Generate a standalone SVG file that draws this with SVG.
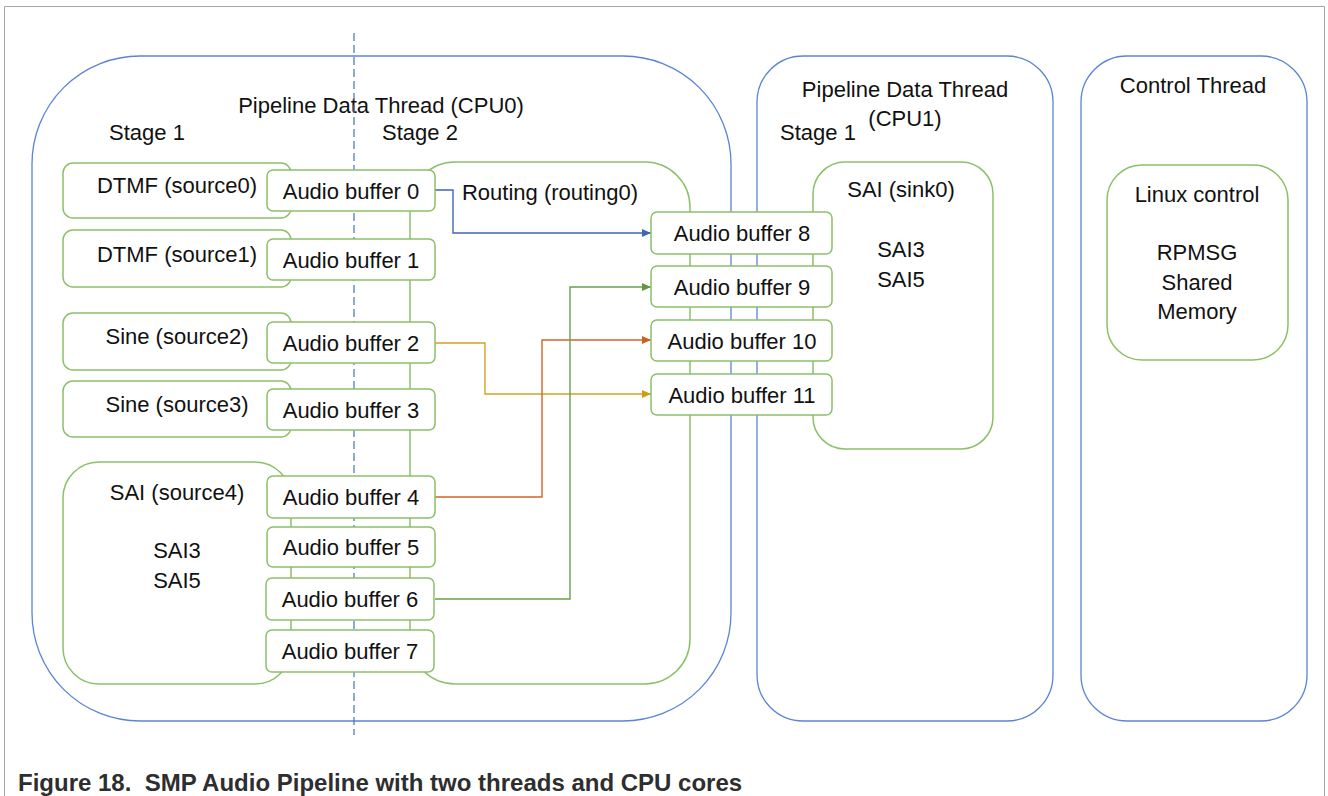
<svg xmlns="http://www.w3.org/2000/svg" width="1328" height="796" viewBox="0 0 1328 796">
<style>
  .frame { fill: none; stroke: #a6a6a6; stroke-width: 1; }
  .thread { fill: #ffffff; stroke: #5b84d4; stroke-width: 1.3; }
  .node { fill: #ffffff; stroke: #8cc068; stroke-width: 1.5; }
  .t { font-family: "Liberation Sans", Arial, sans-serif; font-size: 22px; fill: #111111; text-anchor: middle; }
  .cap { font-family: "Liberation Sans", Arial, sans-serif; font-size: 24px; font-weight: bold; fill: #2e2e2e; white-space: pre; }
  .dash { stroke: #4472c4; stroke-width: 1.2; stroke-dasharray: 8 4; fill: none; }
  .c { fill: none; stroke-width: 1.4; }
</style>
<defs>
  <marker id="aBlue" markerUnits="userSpaceOnUse" markerWidth="9" markerHeight="8" refX="9" refY="4" orient="auto"><path d="M0,0 L9,4 L0,8 z" fill="#3f66b5"/></marker>
  <marker id="aGold" markerUnits="userSpaceOnUse" markerWidth="9" markerHeight="8" refX="9" refY="4" orient="auto"><path d="M0,0 L9,4 L0,8 z" fill="#cf9d12"/></marker>
  <marker id="aOrange" markerUnits="userSpaceOnUse" markerWidth="9" markerHeight="8" refX="9" refY="4" orient="auto"><path d="M0,0 L9,4 L0,8 z" fill="#cf5f1c"/></marker>
  <marker id="aGreen" markerUnits="userSpaceOnUse" markerWidth="9" markerHeight="8" refX="9" refY="4" orient="auto"><path d="M0,0 L9,4 L0,8 z" fill="#5f9640"/></marker>
</defs>

<path class="frame" d="M4.5,796 V6.5 H1324.5 V796"/>

<g id="cpu0-thread">
  <rect class="thread" x="32" y="56" width="699" height="665" rx="108" ry="108"/>
  <text class="t" x="381" y="113">Pipeline Data Thread (CPU0)</text>
  <text class="t" x="147" y="140">Stage 1</text>
  <text class="t" x="420" y="140">Stage 2</text>
</g>

<g id="cpu1-thread">
  <rect class="thread" x="757" y="56" width="296" height="665" rx="46" ry="46"/>
  <text class="t" x="905" y="97">Pipeline Data Thread</text>
  <text class="t" x="905" y="126">(CPU1)</text>
  <text class="t" x="818" y="140">Stage 1</text>
</g>

<g id="control-thread">
  <rect class="thread" x="1081" y="56" width="226" height="665" rx="46" ry="46"/>
  <text class="t" x="1193" y="93">Control Thread</text>
</g>

<line class="dash" x1="354" y1="33" x2="354" y2="735"/>

<g id="source0">
  <rect class="node" x="63" y="163" width="228" height="55" rx="10"/>
  <text class="t" x="177" y="193">DTMF (source0)</text>
</g>
<g id="source1">
  <rect class="node" x="63" y="230" width="228" height="57" rx="10"/>
  <text class="t" x="177" y="262">DTMF (source1)</text>
</g>
<g id="source2">
  <rect class="node" x="63" y="313" width="228" height="57" rx="10"/>
  <text class="t" x="177" y="344">Sine (source2)</text>
</g>
<g id="source3">
  <rect class="node" x="63" y="381" width="228" height="56" rx="10"/>
  <text class="t" x="177" y="412">Sine (source3)</text>
</g>
<g id="source4">
  <rect class="node" x="63" y="462" width="228" height="222" rx="36"/>
  <text class="t" x="177" y="500">SAI (source4)</text>
  <text class="t" x="177" y="558">SAI3</text>
  <text class="t" x="177" y="588">SAI5</text>
</g>

<g id="routing0">
  <rect class="node" x="410" y="162" width="280" height="522" rx="45"/>
  <text class="t" x="550" y="200">Routing (routing0)</text>
</g>

<g id="sink0">
  <rect class="node" x="813" y="162" width="180" height="287" rx="32"/>
  <text class="t" x="901" y="197">SAI (sink0)</text>
  <text class="t" x="901" y="257">SAI3</text>
  <text class="t" x="901" y="287">SAI5</text>
</g>

<g id="linux-control">
  <rect class="node" x="1107" y="165" width="181" height="195" rx="35"/>
  <text class="t" x="1197" y="202">Linux control</text>
  <text class="t" x="1197" y="260">RPMSG</text>
  <text class="t" x="1197" y="290">Shared</text>
  <text class="t" x="1197" y="319">Memory</text>
</g>

<g id="connectors">
  <path class="c" stroke="#3f66b5" d="M435,190 H453 V233 H651" marker-end="url(#aBlue)"/>
  <path class="c" stroke="#d4a325" d="M435,343 H485 V394 H651" marker-end="url(#aGold)"/>
  <path class="c" stroke="#d2642a" d="M435,497 H542 V340 H651" marker-end="url(#aOrange)"/>
  <path class="c" stroke="#6a9f4a" d="M435,599 H570 V287 H651" marker-end="url(#aGreen)"/>
</g>

<g id="buffer0"><rect class="node" x="267" y="170" width="168" height="41" rx="6"/><text class="t" x="351" y="199">Audio buffer 0</text></g>
<g id="buffer1"><rect class="node" x="267" y="239" width="168" height="41" rx="6"/><text class="t" x="351" y="268">Audio buffer 1</text></g>
<g id="buffer2"><rect class="node" x="267" y="322" width="168" height="41" rx="6"/><text class="t" x="351" y="351">Audio buffer 2</text></g>
<g id="buffer3"><rect class="node" x="267" y="389" width="168" height="41" rx="6"/><text class="t" x="351" y="418">Audio buffer 3</text></g>
<g id="buffer4"><rect class="node" x="267" y="476" width="168" height="42" rx="6"/><text class="t" x="351" y="505">Audio buffer 4</text></g>
<g id="buffer5"><rect class="node" x="267" y="527" width="168" height="40" rx="6"/><text class="t" x="351" y="555">Audio buffer 5</text></g>
<g id="buffer6"><rect class="node" x="266" y="578" width="168" height="42" rx="6"/><text class="t" x="350" y="607">Audio buffer 6</text></g>
<g id="buffer7"><rect class="node" x="266" y="630" width="168" height="42" rx="6"/><text class="t" x="350" y="659">Audio buffer 7</text></g>
<g id="buffer8"><rect class="node" x="651" y="212" width="181" height="42" rx="6"/><text class="t" x="742" y="241">Audio buffer 8</text></g>
<g id="buffer9"><rect class="node" x="651" y="266" width="181" height="41" rx="6"/><text class="t" x="742" y="295">Audio buffer 9</text></g>
<g id="buffer10"><rect class="node" x="651" y="320" width="181" height="41" rx="6"/><text class="t" x="742" y="349">Audio buffer 10</text></g>
<g id="buffer11"><rect class="node" x="651" y="374" width="181" height="41" rx="6"/><text class="t" x="742" y="403">Audio buffer 11</text></g>

<text class="cap" x="18" y="791" xml:space="preserve">Figure 18.  SMP Audio Pipeline with two threads and CPU cores</text>
</svg>
